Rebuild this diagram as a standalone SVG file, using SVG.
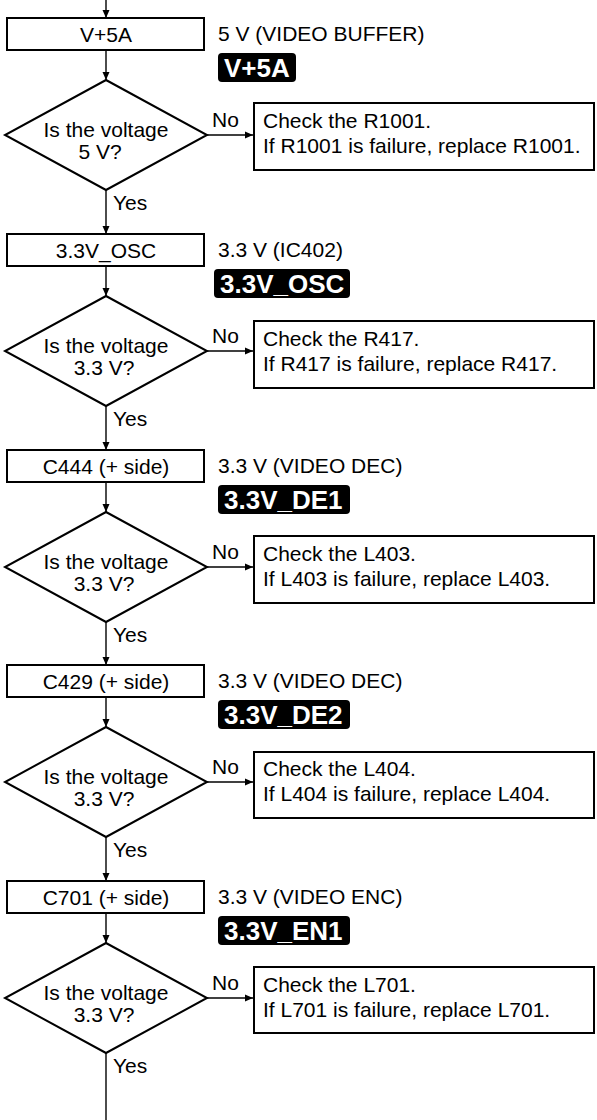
<svg xmlns="http://www.w3.org/2000/svg" width="597" height="1120" viewBox="0 0 597 1120">
<style>
text{font-family:"Liberation Sans",Arial,Helvetica,sans-serif;fill:#000}
.box{fill:#fff;stroke:#000;stroke-width:2}
.dia{fill:#fff;stroke:#000;stroke-width:2;stroke-linejoin:miter}
.t{font-size:21px}
.c{text-anchor:middle}
.q{font-size:21px;text-anchor:middle}
.lab{fill:#000}
.labt{font-size:26px;font-weight:bold;fill:#fff}
.con{stroke:#000;stroke-width:1.4;fill:none}
.arr{marker-end:url(#ah)}
</style>
<defs>
<marker id="ah" markerUnits="userSpaceOnUse" markerWidth="9" markerHeight="8" refX="8" refY="4" orient="auto">
<path d="M0,0.5 L8,4 L0,7.5 z" fill="#000"/>
</marker>
</defs>
<g id="connectors">
<path class="con arr" d="M106,0 V18"/>
<path class="con arr" d="M106,50 V80"/>
<path class="con arr" d="M207,135 H253"/>
<path class="con arr" d="M106,190 V234"/>
<path class="con arr" d="M106,266 V296"/>
<path class="con arr" d="M207,351 H253"/>
<path class="con arr" d="M106,406 V450"/>
<path class="con arr" d="M106,482 V512"/>
<path class="con arr" d="M207,567 H253"/>
<path class="con arr" d="M106,622 V665"/>
<path class="con arr" d="M106,697 V727"/>
<path class="con arr" d="M207,782 H253"/>
<path class="con arr" d="M106,837 V881"/>
<path class="con arr" d="M106,913 V943"/>
<path class="con arr" d="M207,998 H253"/>
<path class="con" d="M106,1053 V1120"/>
<text class="t" x="212" y="127">No</text>
<text class="t" x="113" y="210">Yes</text>
<text class="t" x="212" y="343">No</text>
<text class="t" x="113" y="426">Yes</text>
<text class="t" x="212" y="559">No</text>
<text class="t" x="113" y="642">Yes</text>
<text class="t" x="212" y="774">No</text>
<text class="t" x="113" y="857">Yes</text>
<text class="t" x="212" y="990">No</text>
<text class="t" x="113" y="1073">Yes</text>
</g>

<g id="s1" transform="translate(0,18)">
<g id="box1"><rect class="box" x="7" y="0" width="197" height="32"/><text class="t c" x="106" y="24">V+5A</text></g>
<g id="note1"><text class="t" x="218" y="23">5 V (VIDEO BUFFER)</text><rect class="lab" x="218" y="35" width="78" height="29" rx="4"/><text class="labt" x="224" y="59">V+5A</text></g>
<g id="dec1"><polygon class="dia" points="106,62 207,117 106,172 5,117"/><text class="q" x="106" y="119">Is the voltage</text><text class="q" x="100" y="141">5 V?</text></g>
<g id="fix1"><rect class="box" x="254" y="85" width="340" height="67"/><text class="t" x="263" y="110">Check the R1001.</text><text class="t" x="263" y="135">If R1001 is failure, replace R1001.</text></g>
</g>

<g id="s2" transform="translate(0,234)">
<g id="box2"><rect class="box" x="7" y="0" width="197" height="32"/><text class="t c" x="106" y="24">3.3V_OSC</text></g>
<g id="note2"><text class="t" x="218" y="23">3.3 V (IC402)</text><rect class="lab" x="214" y="35" width="136" height="29" rx="4"/><text class="labt" x="220" y="59">3.3V_OSC</text></g>
<g id="dec2"><polygon class="dia" points="106,62 207,117 106,172 5,117"/><text class="q" x="106" y="119">Is the voltage</text><text class="q" x="104" y="141">3.3 V?</text></g>
<g id="fix2"><rect class="box" x="254" y="87" width="340" height="67"/><text class="t" x="263" y="112">Check the R417.</text><text class="t" x="263" y="137">If R417 is failure, replace R417.</text></g>
</g>

<g id="s3" transform="translate(0,450)">
<g id="box3"><rect class="box" x="7" y="0" width="197" height="32"/><text class="t c" x="106" y="24">C444 (+ side)</text></g>
<g id="note3"><text class="t" x="218" y="23">3.3 V (VIDEO DEC)</text><rect class="lab" x="218" y="35" width="132" height="29" rx="4"/><text class="labt" x="224" y="59">3.3V_DE1</text></g>
<g id="dec3"><polygon class="dia" points="106,62 207,117 106,172 5,117"/><text class="q" x="106" y="119">Is the voltage</text><text class="q" x="104" y="141">3.3 V?</text></g>
<g id="fix3"><rect class="box" x="254" y="86" width="340" height="67"/><text class="t" x="263" y="111">Check the L403.</text><text class="t" x="263" y="136">If L403 is failure, replace L403.</text></g>
</g>

<g id="s4" transform="translate(0,665)">
<g id="box4"><rect class="box" x="7" y="0" width="197" height="32"/><text class="t c" x="106" y="24">C429 (+ side)</text></g>
<g id="note4"><text class="t" x="218" y="23">3.3 V (VIDEO DEC)</text><rect class="lab" x="218" y="35" width="132" height="29" rx="4"/><text class="labt" x="224" y="59">3.3V_DE2</text></g>
<g id="dec4"><polygon class="dia" points="106,62 207,117 106,172 5,117"/><text class="q" x="106" y="119">Is the voltage</text><text class="q" x="104" y="141">3.3 V?</text></g>
<g id="fix4"><rect class="box" x="254" y="87" width="340" height="66"/><text class="t" x="263" y="111">Check the L404.</text><text class="t" x="263" y="136">If L404 is failure, replace L404.</text></g>
</g>

<g id="s5" transform="translate(0,881)">
<g id="box5"><rect class="box" x="7" y="0" width="197" height="32"/><text class="t c" x="106" y="24">C701 (+ side)</text></g>
<g id="note5"><text class="t" x="218" y="23">3.3 V (VIDEO ENC)</text><rect class="lab" x="218" y="35" width="132" height="29" rx="4"/><text class="labt" x="224" y="59">3.3V_EN1</text></g>
<g id="dec5"><polygon class="dia" points="106,62 207,117 106,172 5,117"/><text class="q" x="106" y="119">Is the voltage</text><text class="q" x="104" y="141">3.3 V?</text></g>
<g id="fix5"><rect class="box" x="254" y="86" width="340" height="66"/><text class="t" x="263" y="111">Check the L701.</text><text class="t" x="263" y="136">If L701 is failure, replace L701.</text></g>
</g>
</svg>
